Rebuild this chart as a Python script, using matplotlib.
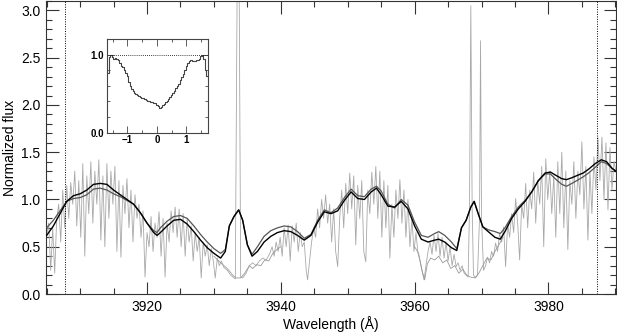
import matplotlib
matplotlib.use("Agg")
import matplotlib.pyplot as plt
from matplotlib.ticker import MultipleLocator

plt.rcParams['font.family'] = ['Liberation Sans', 'DejaVu Sans']

# ---- observed (noisy) spectrum ----
spec_wave = [3905.0, 3905.3, 3905.6, 3905.9, 3906.2, 3906.5, 3906.8, 3907.1, 3907.4, 3907.7,
             3908.0, 3908.3, 3908.6, 3908.9, 3909.2, 3909.5, 3909.8, 3910.1, 3910.4, 3910.7,
             3911.0, 3911.3, 3911.6, 3911.9, 3912.2, 3912.5, 3912.8, 3913.1, 3913.4, 3913.7,
             3914.0, 3914.3, 3914.6, 3914.9, 3915.2, 3915.5, 3915.8, 3916.1, 3916.4, 3916.7,
             3917.0, 3917.3, 3917.6, 3917.9, 3918.2, 3918.5, 3918.8, 3919.1, 3919.4, 3919.7,
             3920.0, 3920.3, 3920.6, 3920.9, 3921.2, 3921.5, 3921.8, 3922.1, 3922.4, 3922.7,
             3923.0, 3923.3, 3923.6, 3923.9, 3924.2, 3924.5, 3924.8, 3925.1, 3925.4, 3925.7,
             3926.0, 3926.3, 3926.6, 3926.9, 3927.2, 3927.5, 3927.8, 3928.1, 3928.4, 3928.7,
             3929.0, 3929.3, 3929.6, 3929.9, 3930.2, 3930.5, 3930.8, 3931.1, 3931.5, 3932.0,
             3932.5, 3933.0, 3933.2, 3933.5, 3933.75, 3934.0, 3934.3, 3934.8, 3935.3, 3935.8,
             3936.3, 3936.8, 3937.3, 3937.8, 3938.3, 3938.7, 3939.0, 3939.3, 3939.6, 3939.9,
             3940.2, 3940.5, 3940.8, 3941.1, 3941.4, 3941.7, 3942.0, 3942.3, 3942.6, 3942.9,
             3943.2, 3943.5, 3943.8, 3944.0, 3944.3, 3944.6, 3944.9, 3945.2, 3945.5, 3945.8,
             3946.1, 3946.4, 3946.7, 3947.0, 3947.3, 3947.6, 3947.9, 3948.2, 3948.5, 3948.8,
             3949.1, 3949.4, 3949.7, 3950.0, 3950.3, 3950.6, 3950.9, 3951.2, 3951.5, 3951.8,
             3952.1, 3952.4, 3952.7, 3953.0, 3953.3, 3953.6, 3953.9, 3954.2, 3954.5, 3954.8,
             3955.1, 3955.4, 3955.7, 3956.0, 3956.3, 3956.6, 3956.9, 3957.2, 3957.5, 3957.8,
             3958.1, 3958.4, 3958.7, 3959.0, 3959.3, 3959.6, 3959.9, 3960.2, 3960.5, 3960.8,
             3961.1, 3961.4, 3961.7, 3962.0, 3962.3, 3962.6, 3962.9, 3963.2, 3963.5, 3963.8,
             3964.1, 3964.4, 3964.7, 3965.0, 3965.3, 3965.6, 3965.9, 3966.2, 3966.5, 3966.8,
             3967.1, 3967.4, 3967.7, 3968.0, 3968.2, 3968.4, 3968.6, 3968.8, 3969.1, 3969.4,
             3969.7, 3969.85, 3970.0, 3970.3, 3970.6, 3970.9, 3971.2, 3971.5, 3971.8, 3972.1,
             3972.4, 3972.7, 3973.0, 3973.3, 3973.6, 3973.9, 3974.2, 3974.5, 3974.8, 3975.1,
             3975.4, 3975.7, 3976.0, 3976.3, 3976.6, 3976.9, 3977.2, 3977.5, 3977.8, 3978.1,
             3978.4, 3978.7, 3979.0, 3979.3, 3979.6, 3979.9, 3980.2, 3980.5, 3980.8, 3981.1,
             3981.4, 3981.7, 3982.0, 3982.3, 3982.6, 3982.9, 3983.2, 3983.5, 3983.8, 3984.1,
             3984.4, 3984.7, 3985.0, 3985.3, 3985.6, 3985.9, 3986.2, 3986.5, 3986.8, 3987.1,
             3987.4, 3987.7, 3988.0, 3988.3, 3988.6, 3988.9, 3989.2, 3989.5, 3989.8, 3990.1]
spec_flux = [0.62, 0.75, 0.25, 0.70, 0.22, 0.80, 0.95, 0.55, 1.10, 0.70,
             1.15, 0.80, 1.18, 0.95, 1.30, 0.72, 1.20, 0.60, 1.38, 0.40,
             1.25, 0.85, 1.40, 0.75, 1.30, 0.95, 1.42, 0.57, 1.25, 0.50,
             1.38, 0.80, 1.30, 0.95, 1.35, 0.45, 1.20, 0.39, 1.15, 0.85,
             1.22, 0.70, 1.10, 0.55, 1.05, 0.80, 0.95, 0.60, 0.88, 0.18,
             0.65, 0.50, 0.82, 0.45, 0.75, 0.60, 0.87, 0.40, 0.80, 0.18,
             0.75, 0.55, 0.88, 0.65, 0.92, 0.60, 0.90, 0.50, 0.85, 0.40,
             0.80, 0.55, 0.72, 0.35, 0.65, 0.45, 0.60, 0.17, 0.55, 0.40,
             0.52, 0.30, 0.48, 0.35, 0.17, 0.38, 0.30, 0.35, 0.28, 0.25,
             0.20, 0.17, 0.16, 3.60, 3.60, 0.18, 0.17, 0.22, 0.30, 0.33,
             0.30, 0.35, 0.38, 0.36, 0.42, 0.50, 0.40, 0.55, 0.45, 0.60,
             0.40, 0.70, 0.50, 0.73, 0.35, 0.72, 0.55, 0.75, 0.45, 0.65,
             0.50, 0.55, 0.25, 0.15, 0.35, 0.55, 0.70, 0.60, 0.90, 0.70,
             1.00, 0.80, 1.05, 0.75, 0.95, 0.55, 0.90, 0.45, 0.29, 0.80,
             1.10, 0.70, 1.17, 0.85, 1.28, 0.90, 1.25, 0.52, 1.15, 0.80,
             1.20, 0.45, 0.34, 1.10, 0.85, 1.29, 0.95, 1.35, 0.80, 1.30,
             0.60, 1.20, 0.70, 1.15, 0.38, 0.95, 0.60, 1.10, 0.80, 1.21,
             0.75, 1.10, 0.60, 1.00, 0.50, 0.80, 0.45, 0.65, 0.43, 0.35,
             0.25, 0.15, 0.30, 0.45, 0.55, 0.42, 0.62, 0.45, 0.64, 0.40,
             0.60, 0.38, 0.55, 0.35, 0.50, 0.30, 0.42, 0.29, 0.33, 0.25,
             0.30, 0.22, 0.20, 0.18, 0.90, 3.05, 0.90, 0.20, 0.17, 0.20,
             0.80, 2.68, 0.80, 0.25, 0.30, 0.39, 0.33, 0.45, 0.40, 0.54,
             0.45, 0.64, 0.55, 0.71, 0.29, 0.74, 0.60, 0.85, 0.65, 1.01,
             0.75, 0.36, 0.95, 0.80, 1.17, 0.70, 1.10, 0.90, 1.29, 0.75,
             1.20, 0.95, 1.35, 0.50, 1.43, 1.00, 1.30, 0.85, 1.25, 0.60,
             1.40, 0.85, 1.50, 0.70, 1.30, 0.47, 1.20, 0.95, 1.40, 0.80,
             1.30, 1.05, 1.61, 0.90, 1.35, 0.57, 1.30, 0.85, 1.45, 1.10,
             1.66, 1.20, 1.66, 1.00, 1.60, 0.89, 1.55, 1.10, 1.40, 1.30]

# ---- second thin spectrum in the Ca II K and H cores ----
core_wave = [3930.0, 3931.0, 3932.0, 3932.8, 3933.3, 3934.0, 3934.6, 3935.3, 3935.8, 3936.4,
             3937.0, 3937.6, 3938.2, 3938.8, 3939.4, 3940.0,
             3960.0, 3960.6, 3961.1, 3961.5, 3961.9, 3962.4, 3963.0, 3963.6, 3964.2, 3964.8,
             3965.4, 3966.0, 3966.6, 3967.2, 3967.8, 3968.3, 3969.0, 3969.6, 3970.2, 3970.8,
             3971.4, 3972.0, 3972.6, 3973.2]
core_flux = [0.40, 0.33, 0.27, 0.20, 0.17, 0.17, 0.22, 0.30, 0.27, 0.31,
             0.30, 0.36, 0.35, 0.43, 0.47, 0.50,
             0.50, 0.43, 0.25, 0.15, 0.32, 0.38, 0.36, 0.40, 0.33, 0.36,
             0.27, 0.30, 0.22, 0.26, 0.20, 0.18, 0.17, 0.22, 0.30, 0.38,
             0.36, 0.45, 0.52, 0.60]
core_segments = [(0, 16), (16, 40)]

# ---- smoothed spectra ----
smooth_wave = [3905.0, 3906.0, 3907.0, 3908.0, 3909.0, 3910.0, 3911.0, 3912.0, 3913.0, 3914.0,
               3915.0, 3916.0, 3917.0, 3918.0, 3919.0, 3920.0, 3921.0, 3921.5, 3922.0, 3923.0,
               3924.0, 3925.0, 3926.0, 3927.0, 3928.0, 3929.0, 3930.0, 3931.0, 3931.7, 3932.3,
               3933.0, 3933.7, 3934.3, 3935.0, 3935.7, 3936.5, 3937.5, 3938.5, 3939.5, 3940.5,
               3941.5, 3942.5, 3943.5, 3944.5, 3945.5, 3946.5, 3947.5, 3948.5, 3949.5, 3950.5,
               3951.5, 3952.5, 3953.5, 3954.3, 3955.0, 3956.0, 3957.0, 3958.0, 3959.0, 3960.0,
               3961.0, 3962.0, 3963.0, 3963.6, 3964.5, 3965.5, 3966.3, 3967.0, 3967.7, 3968.4,
               3968.9, 3969.5, 3970.2, 3971.0, 3972.0, 3972.8, 3973.5, 3974.5, 3975.5, 3976.5,
               3977.5, 3978.5, 3979.5, 3980.3, 3981.0, 3982.0, 3982.7, 3983.5, 3984.5, 3985.2,
               3986.0, 3987.0, 3987.9, 3988.7, 3989.5, 3990.2]
smooth_a = [0.62, 0.72, 0.85, 0.98, 1.04, 1.06, 1.10, 1.16, 1.17, 1.16,
            1.10, 1.05, 1.00, 0.95, 0.86, 0.75, 0.65, 0.62, 0.65, 0.72,
            0.78, 0.79, 0.74, 0.66, 0.57, 0.49, 0.43, 0.38, 0.45, 0.72,
            0.82, 0.89, 0.78, 0.52, 0.40, 0.45, 0.55, 0.61, 0.65, 0.67,
            0.66, 0.62, 0.57, 0.62, 0.76, 0.87, 0.85, 0.88, 0.99, 1.08,
            1.01, 1.00, 1.08, 1.12, 1.05, 0.93, 0.92, 0.98, 0.90, 0.72,
            0.58, 0.55, 0.57, 0.58, 0.55, 0.49, 0.46, 0.70, 0.78, 0.92,
            0.98, 0.85, 0.71, 0.66, 0.60, 0.58, 0.66, 0.80, 0.90, 0.98,
            1.08, 1.20, 1.28, 1.29, 1.26, 1.22, 1.21, 1.23, 1.26, 1.28,
            1.32, 1.38, 1.42, 1.40, 1.33, 1.29]
smooth_b = [0.70, 0.78, 0.88, 0.98, 1.01, 1.02, 1.05, 1.11, 1.12, 1.10,
            1.06, 1.03, 0.99, 0.95, 0.86, 0.75, 0.67, 0.65, 0.70, 0.77,
            0.82, 0.83, 0.80, 0.72, 0.63, 0.55, 0.48, 0.43, 0.47, 0.72,
            0.82, 0.89, 0.78, 0.52, 0.42, 0.50, 0.61, 0.67, 0.70, 0.72,
            0.71, 0.66, 0.59, 0.63, 0.78, 0.89, 0.86, 0.91, 1.02, 1.11,
            1.04, 1.03, 1.11, 1.14, 1.09, 0.95, 0.91, 1.00, 0.94, 0.76,
            0.62, 0.60, 0.64, 0.66, 0.62, 0.55, 0.48, 0.70, 0.78, 0.92,
            0.98, 0.85, 0.71, 0.68, 0.66, 0.64, 0.70, 0.82, 0.92, 0.99,
            1.08, 1.20, 1.27, 1.27, 1.22, 1.16, 1.14, 1.17, 1.21, 1.24,
            1.28, 1.34, 1.40, 1.38, 1.33, 1.30]

# ---- inset profile ----
inset_x = [-1.65, -1.60, -1.55, -1.50, -1.45, -1.40, -1.35, -1.30, -1.25, -1.20,
           -1.15, -1.10, -1.05, -1.00, -0.95, -0.90, -0.85, -0.80, -0.75, -0.70,
           -0.65, -0.60, -0.55, -0.50, -0.45, -0.40, -0.35, -0.30, -0.25, -0.20,
           -0.15, -0.10, -0.05, 0.00, 0.05, 0.10, 0.15, 0.20, 0.25, 0.30,
           0.35, 0.40, 0.45, 0.50, 0.55, 0.60, 0.65, 0.70, 0.75, 0.80,
           0.85, 0.90, 0.95, 1.00, 1.05, 1.10, 1.15, 1.20, 1.25, 1.30,
           1.35, 1.40, 1.45, 1.50, 1.55, 1.60, 1.65, 1.70]
inset_y = [0.76, 0.97, 0.99, 0.97, 0.95, 0.96, 0.94, 0.93, 0.89, 0.86,
           0.84, 0.80, 0.76, 0.72, 0.65, 0.60, 0.56, 0.53, 0.51, 0.50,
           0.48, 0.47, 0.46, 0.45, 0.44, 0.43, 0.42, 0.41, 0.40, 0.395,
           0.39, 0.385, 0.38, 0.36, 0.34, 0.32, 0.33, 0.35, 0.37, 0.39,
           0.41, 0.43, 0.46, 0.48, 0.51, 0.54, 0.57, 0.60, 0.63, 0.67,
           0.71, 0.75, 0.80, 0.85, 0.89, 0.92, 0.93, 0.92, 0.92, 0.92,
           0.93, 0.93, 0.95, 0.98, 1.00, 0.94, 0.80, 0.72]

region_marks = [3907.7, 3987.2]

W, H = 617, 334
fig = plt.figure(figsize=(W / 100, H / 100), dpi=100)
ax = fig.add_axes([46 / W, (H - 294) / H, (616 - 46) / W, (294 - 1) / H])

ax.plot(spec_wave, spec_flux, color='#a8a8a8', lw=0.6, zorder=2)
for s, e in core_segments:
    ax.plot(core_wave[s:e], core_flux[s:e], color='#9a9a9a', lw=0.6, zorder=2)
ax.plot(smooth_wave, smooth_b, color='#555555', lw=0.9, zorder=3)
ax.plot(smooth_wave, smooth_a, color='black', lw=1.0, zorder=4)
for xm in region_marks:
    ax.axvline(xm, color='black', ls=(0, (1, 1.5)), lw=0.7, zorder=3)

ax.set_xlim(3904.9, 3990.1)
ax.set_ylim(0.0, 3.1)
ax.xaxis.set_major_locator(MultipleLocator(20))
ax.xaxis.set_minor_locator(MultipleLocator(5))
ax.yaxis.set_major_locator(MultipleLocator(0.5))
ax.yaxis.set_minor_locator(MultipleLocator(0.1))
ax.yaxis.set_major_formatter(matplotlib.ticker.FormatStrFormatter('%.1f'))
ax.tick_params(which='both', direction='in', top=True, right=True, labelsize=10,
               color='#333333', width=0.8)
ax.tick_params(which='major', length=9, pad=4)
ax.tick_params(which='minor', length=4.5)
for sp in ax.spines.values():
    sp.set_linewidth(0.8)
    sp.set_color('#333333')
ax.set_xlabel('Wavelength (Å)', fontsize=10, labelpad=2)
ax.set_ylabel('Normalized flux', fontsize=10, labelpad=3)

# inset
ins = fig.add_axes([107 / W, (H - 132.7) / H, (207.7 - 107) / W, (132.7 - 39) / H])
ins.plot(inset_x, inset_y, color='#444444', lw=0.8, drawstyle='steps-mid')
ins.axhline(1.0, color='black', ls=(0, (1, 1.5)), lw=0.6)
ins.set_xlim(-1.69, 1.72)
ins.set_ylim(0.0, 1.2)
ins.set_xticks([-1, 0, 1])
ins.set_xticklabels(['−1', '0', '1'], fontweight='bold')
ins.set_yticks([0.0, 1.0])
ins.set_yticklabels(['0.0', '1.0'], fontweight='bold')
ins.xaxis.set_minor_locator(MultipleLocator(0.5))
ins.yaxis.set_minor_locator(MultipleLocator(0.2))
ins.tick_params(which='both', direction='in', top=True, right=True, labelsize=7,
                color='#444444', width=0.6, pad=2)
ins.tick_params(which='major', length=5)
ins.tick_params(which='minor', length=2.5)
for sp in ins.spines.values():
    sp.set_linewidth(0.8)
    sp.set_color('#444444')

fig.savefig('out.png', dpi=100)
